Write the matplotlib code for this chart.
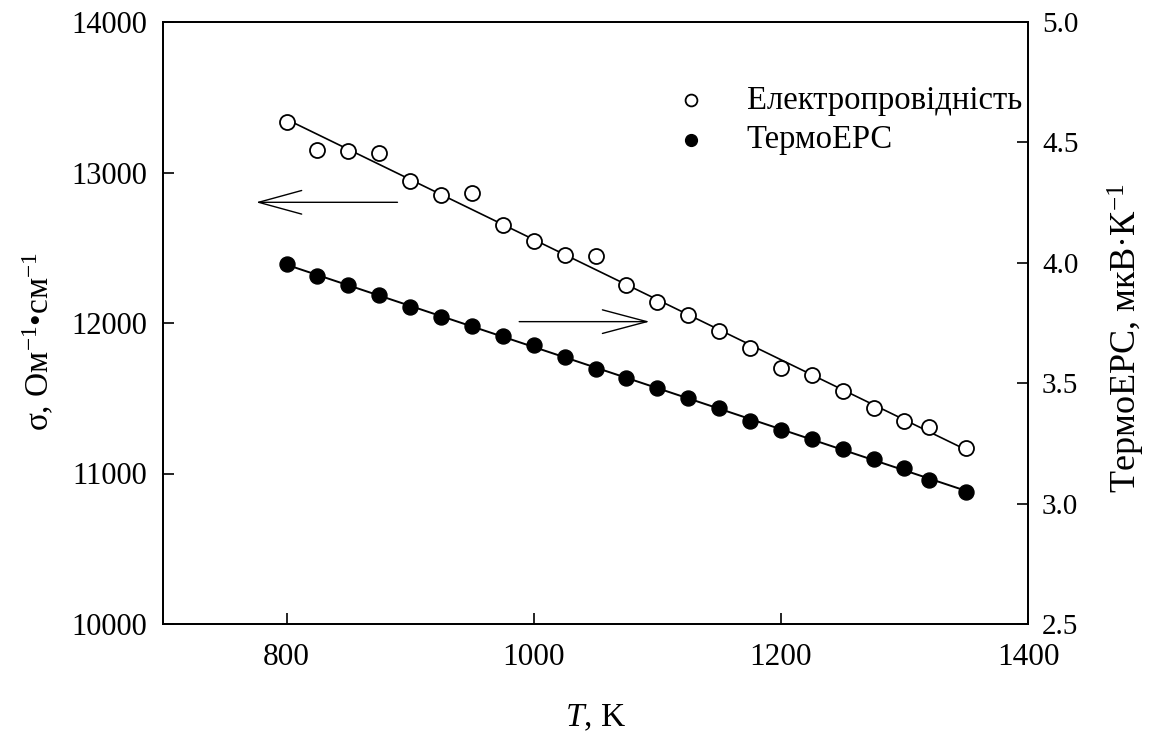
import numpy as np
import matplotlib
matplotlib.use("Agg")
import matplotlib.pyplot as plt

plt.rcParams['font.family'] = ['Liberation Serif', 'DejaVu Serif']
plt.rcParams['mathtext.fontset'] = 'custom'
plt.rcParams['mathtext.rm'] = 'Liberation Serif'
plt.rcParams['mathtext.it'] = 'Liberation Serif:italic'

# Data
T_sigma = [800, 825, 850, 875, 900, 925, 950, 975, 1000, 1025, 1050, 1075,
           1100, 1125, 1150, 1175, 1200, 1225, 1250, 1275, 1300, 1320, 1350]
sigma = [13335, 13147, 13140, 13131, 12942, 12851, 12862, 12651, 12542, 12453, 12442, 12255,
         12142, 12053, 11947, 11831, 11702, 11655, 11547, 11435, 11347, 11310, 11169]
T_seebeck = [800, 825, 850, 875, 900, 925, 950, 975, 1000, 1025, 1050, 1075,
             1100, 1125, 1150, 1175, 1200, 1225, 1250, 1275, 1300, 1320, 1350]
seebeck = [3.995, 3.946, 3.907, 3.867, 3.817, 3.776, 3.736, 3.697, 3.657, 3.608, 3.557, 3.520,
           3.478, 3.439, 3.397, 3.345, 3.307, 3.268, 3.226, 3.186, 3.147, 3.099, 3.047]
label_sigma = "Електропровідність"
label_seebeck = "ТермоЕРС"
xticks = [800, 1000, 1200, 1400]
yticks_left = [10000, 11000, 12000, 13000, 14000]
yticks_right = [2.5, 3.0, 3.5, 4.0, 4.5, 5.0]
yticklabels_right = ['2.5', '3.0', '3.5', '4.0', '4.5', '5.0']

fig = plt.figure(figsize=(11.5, 7.4), dpi=100)
ax = fig.add_axes([163/1150, 1-624/740, (1028-163)/1150, (624-22)/740])
ax2 = ax.twinx()

# linear fits
Ts = np.array(T_sigma, float)
p1 = np.polyfit(Ts, sigma, 1)
Te = np.array(T_seebeck, float)
p2 = np.polyfit(Te, seebeck, 1)

ax.plot([Ts[0], Ts[-1]], np.polyval(p1, [Ts[0], Ts[-1]]), color='black', lw=1.2, zorder=2)
ax.plot(Ts, sigma, 'o', mfc='white', mec='black', ms=10.8, mew=1.3, zorder=3)

ax2.plot([Te[0], Te[-1]], np.polyval(p2, [Te[0], Te[-1]]), color='black', lw=1.4, zorder=2)
ax2.plot(Te, seebeck, 'o', mfc='black', mec='black', ms=10.8, mew=1.0, zorder=3)

ax.set_xlim(700, 1400)
ax.set_ylim(10000, 14000)
ax2.set_ylim(2.5, 5.0)
ax.set_xticks(xticks)
ax.set_yticks(yticks_left)
ax2.set_yticks(yticks_right)
ax2.set_yticklabels(yticklabels_right)

for a in (ax, ax2):
    for s in a.spines.values():
        s.set_linewidth(1.3)
ax.tick_params(axis='both', direction='in', length=8, width=1.2)
ax.tick_params(axis='y', pad=11.5, labelsize=22)
ax.tick_params(axis='x', pad=13.5, labelsize=22.5)
ax2.tick_params(axis='y', direction='in', length=8, width=1.2, labelsize=21, pad=10)

ax.set_xlabel('$T$, K', fontsize=24)
ax.xaxis.set_label_coords(0.5, -0.131)
ax.set_ylabel('σ, Ом$^{-1}$•см$^{-1}$', fontsize=24)
ax.yaxis.set_label_coords(-0.123, 0.47)
ax2.set_ylabel('ТермоЕРС, мкВ·К$^{-1}$', fontsize=26, rotation=90)
ax2.yaxis.set_label_coords(1.09, 0.475)

# arrows
ax.annotate('', xy=(773, 12802), xytext=(892, 12802),
            arrowprops=dict(arrowstyle='->,head_length=3.1,head_width=0.85', color='black', lw=1.0))
ax.annotate('', xy=(1096, 12009), xytext=(986, 12009),
            arrowprops=dict(arrowstyle='->,head_length=3.2,head_width=0.85', color='black', lw=1.0))

# legend (manual)
ax.plot([0.610], [0.870], 'o', transform=ax.transAxes, mfc='white', mec='black', ms=8.5, mew=1.3, clip_on=False)
ax.plot([0.610], [0.804], 'o', transform=ax.transAxes, mfc='black', mec='black', ms=8.5, clip_on=False)
ax.text(0.675, 0.870, label_sigma, transform=ax.transAxes, fontsize=23.5, va='center', ha='left')
ax.text(0.675, 0.804, label_seebeck, transform=ax.transAxes, fontsize=23.5, va='center', ha='left')

fig.savefig('out.png', dpi=100)
